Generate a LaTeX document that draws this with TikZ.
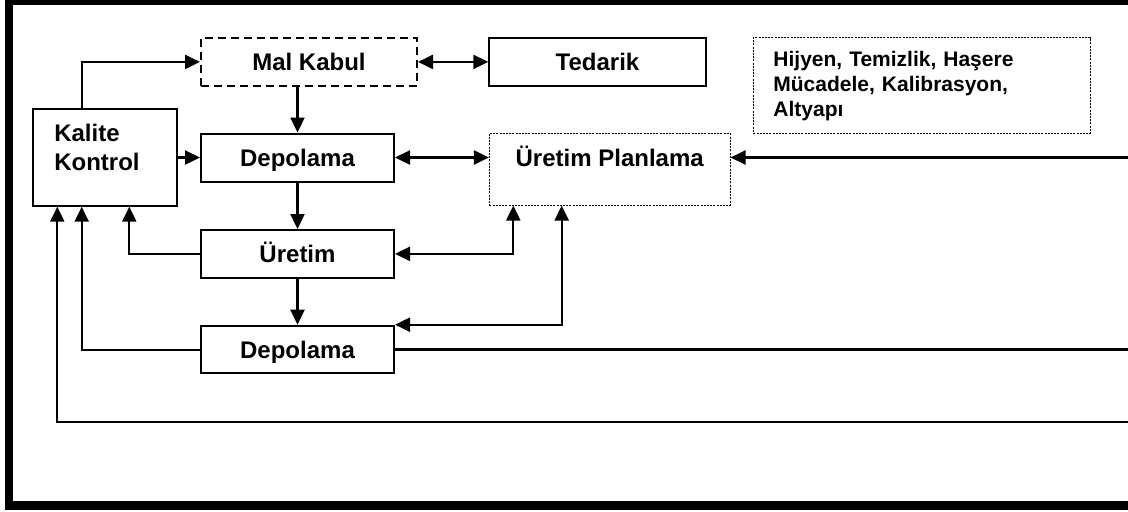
\documentclass[tikz,border=0pt]{standalone}
\usepackage{fontspec}
\setmainfont{Liberation Sans}
\usetikzlibrary{arrows.meta}

\tikzset{
  box/.style={draw, line width=1pt, inner sep=0pt, minimum width=96.5pt, minimum height=24pt,
    text height=8.6pt, text depth=0pt, font={\fontsize{12}{14.5}\selectfont\bfseries}},
  dashbox/.style={box, dash pattern=on 4pt off 2.5pt},
  dotbox/.style={box, line width=0.5pt, dash pattern=on 1pt off 0.6pt},
  conn/.style={line width=1.15pt},
  back/.style={line width=1pt},
  >={Triangle[length=7.5pt,width=7pt]}
}

\begin{document}
\begin{tikzpicture}[x=0.5pt,y=-0.5pt]
        \useasboundingbox (0,0) rectangle (1128,511);
        \fill[white] (0,0) rectangle (1128,511);
        \clip (0,0) rectangle (1128,511);
        \draw[line width=4.25pt] (9,1) rectangle (1150,505.5);

        \coordinate (cola) at (57.3,0);
        \coordinate (colb) at (81.7,0);
        \coordinate (colc) at (129.3,0);
        \coordinate (cold) at (513.3,0);
        \coordinate (cole) at (561.7,0);
        \coordinate (inplan) at (1140,157.5);
        \coordinate (outdepo) at (1140,349.5);
        \coordinate (loop) at (1140,421.7);

        \node[dashbox, minimum width=108pt] (malkabul) at (309,61.9) {Mal Kabul};
        \node[box, minimum width=108.2pt] (tedarik) at (597.5,61.9) {Tedarik};
        \node[dotbox, minimum width=168.3pt, minimum height=47.8pt, inner xsep=10pt, text width=148.3pt,
              align=left, text height=7.5pt, text depth=26.3pt,
              font={\fontsize{10.5}{12.5}\selectfont\bfseries}] (hijyen) at (921.7,85.5)
              {Hijyen, Temizlik, Haşere\\Mücadele, Kalibrasyon,\\Altyapı};
        \node[box, minimum width=72.3pt, minimum height=48.35pt, inner xsep=10.8pt, text width=50.7pt,
              align=left, text depth=24.3pt] (kalite) at (105,157.35) {Kalite\\Kontrol};
        \node[box] (depo1) at (297.5,157.5) {Depolama};
        \node[dotbox, minimum width=120.35pt, minimum height=35.85pt, text depth=11.1pt] (planlama) at (609.7,169.2) {Üretim Planlama};
        \node[box, minimum height=23.85pt] (uretim) at (297.5,253.85) {Üretim};
        \node[box, minimum height=23.8pt] (depo2) at (297.5,349.5) {Depolama};

        \draw[conn,->] (kalite.north -| colb) |- (malkabul.west);
        \draw[conn,<->] (malkabul.east) -- (tedarik.west);
        \draw[conn,->] (malkabul.south -| depo1) -- (depo1.north);
        \draw[conn,->] (kalite.east |- depo1) -- (depo1.west);
        \draw[conn,<->] (depo1.east) -- (planlama.west |- depo1);
        \draw[conn,->] (inplan) -- (planlama.east |- inplan);
        \draw[conn,->] (depo1.south) -- (uretim.north);
        \draw[conn,->] (uretim.south) -- (depo2.north);
        \draw[back,->] (uretim.west) -| (kalite.south -| colc);
        \draw[conn,<->] (uretim.east) -| (planlama.south -| cold);
        \draw[conn,<->] (depo2.north east) -| (planlama.south -| cole);
        \draw[back,->] (depo2.west) -| (kalite.south -| colb);
        \draw[conn] (depo2.east) -- (outdepo);
        \draw[back,->] (loop) -| (kalite.south -| cola);
\end{tikzpicture}
\end{document}
